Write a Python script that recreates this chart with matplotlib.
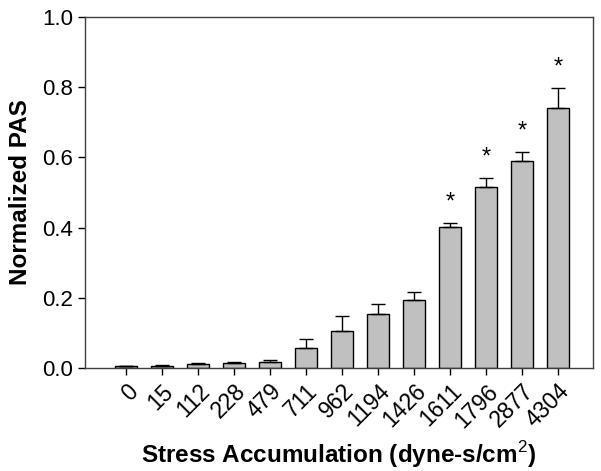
import numpy as np
import matplotlib
matplotlib.use("Agg")
import matplotlib.pyplot as plt

plt.rcParams["font.family"] = ["Liberation Sans", "DejaVu Sans"]
plt.rcParams["mathtext.fontset"] = "custom"
plt.rcParams["mathtext.rm"] = "Liberation Sans"

# -------------------------------------------------
# Data
# -------------------------------------------------
stress_labels = ["0", "15", "112", "228", "479", "711", "962", "1194",
                 "1426", "1611", "1796", "2877", "4304"]
pas_mean = [0.005, 0.007, 0.011, 0.013, 0.017, 0.057, 0.105, 0.154,
            0.193, 0.402, 0.515, 0.589, 0.741]
pas_err = [0.001, 0.002, 0.004, 0.003, 0.006, 0.026, 0.042, 0.027,
           0.023, 0.012, 0.026, 0.026, 0.057]
significant = [False] * 9 + [True] * 4

# -------------------------------------------------
# Plot
# -------------------------------------------------
fig = plt.figure(figsize=(6.01, 4.71), dpi=100)
ax = fig.add_axes([85 / 601, 103 / 471, 508 / 601, 351 / 471])

x = np.arange(len(stress_labels))
ax.bar(x, pas_mean, width=0.61, color="#c0c0c0", edgecolor="black",
       linewidth=1.0, zorder=2)
ax.errorbar(x, pas_mean, yerr=[np.zeros(len(pas_err)), pas_err], fmt="none",
            ecolor="black", elinewidth=1.0, capsize=5, capthick=1.0, zorder=3)

for xi, m, e, sig in zip(x, pas_mean, pas_err, significant):
    if sig:
        ax.text(xi, m + e + 0.058, "*", ha="center", va="center",
                fontsize=17)

ax.set_xlim(-1.14, 12.97)
ax.set_ylim(0, 1.0)
ax.set_xticks(x)
ax.set_xticklabels(stress_labels, rotation=45, ha="right",
                   rotation_mode="anchor", fontsize=16.5)
ax.set_yticks(np.arange(0, 1.01, 0.2))
ax.set_yticklabels([f"{v:.1f}" for v in np.arange(0, 1.01, 0.2)], fontsize=16)
ax.tick_params(direction="out", length=5, width=1)

for s in ax.spines.values():
    s.set_linewidth(1.0)
    s.set_color("#404040")

ax.set_ylabel("Normalized PAS", fontsize=17.5, fontweight="bold", labelpad=7)
ax.set_xlabel("Stress Accumulation (dyne-s/cm$^\\mathrm{2}$)",
              fontsize=17.5, fontweight="bold", labelpad=5)

fig.savefig("out.png", dpi=100)
